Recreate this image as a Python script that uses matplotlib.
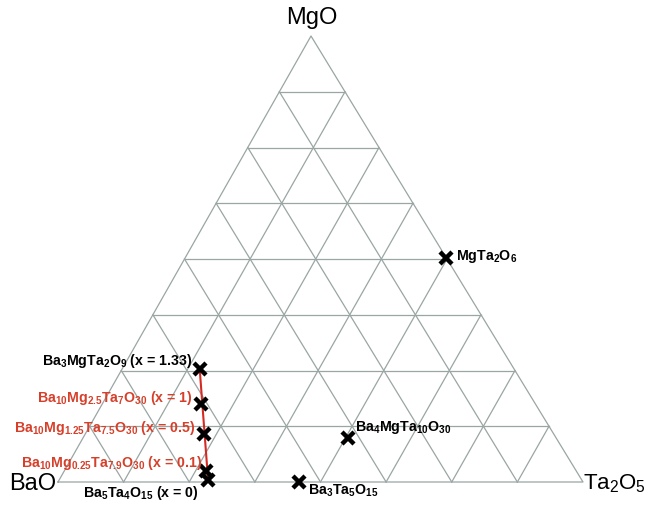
import numpy as np
import matplotlib
matplotlib.use("Agg")
import matplotlib.pyplot as plt

plt.rcParams["font.family"] = ["Liberation Sans", "DejaVu Sans"]
plt.rcParams["mathtext.fontset"] = "custom"
plt.rcParams["mathtext.rm"] = "Liberation Sans"
plt.rcParams["mathtext.bf"] = "Liberation Sans:bold"

# compositions as mole fractions (MgO, Ta2O5); BaO is the remainder
phases = ["Ba3MgTa2O9", "x=1", "x=0.5", "x=0.1", "x=0",
          "Ba3Ta5O15", "Ba4MgTa10O30", "MgTa2O6"]
mgo_frac = [0.253, 0.175, 0.108, 0.025, 0.004, 0.0, 0.099, 0.502]
ta2o5_frac = [0.148, 0.188, 0.226, 0.270, 0.284, 0.459, 0.505, 0.497]
labels = [
    r"Ba$_\mathbf{3}$MgTa$_\mathbf{2}$O$_\mathbf{9}$ (x = 1.33)",
    r"Ba$_\mathbf{10}$Mg$_\mathbf{2.5}$Ta$_\mathbf{7}$O$_\mathbf{30}$ (x = 1)",
    r"Ba$_\mathbf{10}$Mg$_\mathbf{1.25}$Ta$_\mathbf{7.5}$O$_\mathbf{30}$ (x = 0.5)",
    r"Ba$_\mathbf{10}$Mg$_\mathbf{0.25}$Ta$_\mathbf{7.9}$O$_\mathbf{30}$ (x = 0.1)",
    r"Ba$_\mathbf{5}$Ta$_\mathbf{4}$O$_\mathbf{15}$ (x = 0)",
    r"Ba$_\mathbf{3}$Ta$_\mathbf{5}$O$_\mathbf{15}$",
    r"Ba$_\mathbf{4}$MgTa$_\mathbf{10}$O$_\mathbf{30}$",
    r"MgTa$_\mathbf{2}$O$_\mathbf{6}$",
]
label_colors = ["black", "#d6402b", "#d6402b", "#d6402b", "black",
                "black", "black", "black"]
# text offset (dx, dy) and alignment for each label
label_pos = [(-8, -9, "right"), (-8, -7, "right"), (-9, -7, "right"),
             (-4, -9, "right"), (-10, 12, "right"), (9, 8, "left"),
             (7, -11, "left"), (10, -3, "left")]
label_size = 10.2

# corners of the diagram: BaO, Ta2O5, MgO
A = np.array([58.0, 483.0])
B = np.array([583.0, 483.0])
C = np.array([311.0, 37.0])


def to_xy(mg, ta):
    ba = 1 - mg - ta
    p = ba * A + ta * B + mg * C
    return p[0], p[1]


fig = plt.figure(figsize=(6.48, 5.06), dpi=100)
ax = fig.add_axes([0, 0, 1, 1])
ax.set_xlim(0, 648)
ax.set_ylim(506, 0)
ax.axis("off")

grid_c = "#9aa6a4"
n = 8
for i in range(1, n):
    f = i / n
    for p, q in (((f, 0), (f, 1 - f)), ((0, f), (1 - f, f)), ((1 - f, 0), (0, 1 - f))):
        x0, y0 = to_xy(*p)
        x1, y1 = to_xy(*q)
        ax.plot([x0, x1], [y0, y1], color=grid_c, lw=0.9, zorder=1)
tri = np.array([A, B, C, A])
ax.plot(tri[:, 0], tri[:, 1], color=grid_c, lw=0.9, zorder=1)

pts = [to_xy(m, t) for m, t in zip(mgo_frac, ta2o5_frac)]
xs = [p[0] for p in pts]
ys = [p[1] for p in pts]

# Ba5Ta4O15 - Ba3MgTa2O9 tie line
ax.plot([xs[0], xs[4]], [ys[0], ys[4]], color="#d42a22", lw=1.5, zorder=2)
ax.plot(xs, ys, "x", color="black", ms=9, mew=3.2, ls="none", zorder=3)

for x, y, lab, col, (dx, dy, ha) in zip(xs, ys, labels, label_colors, label_pos):
    ax.text(x + dx, y + dy, lab, color=col, ha=ha, va="center",
            fontsize=label_size, fontweight="bold", zorder=4)

ax.text(C[0] + 1, 18, "MgO", ha="center", va="center", fontsize=17)
ax.text(A[0] - 2, A[1] + 1, "BaO", ha="right", va="center", fontsize=17)
ax.text(B[0], B[1] + 1, r"Ta$_\mathrm{2}$O$_\mathrm{5}$", ha="left", va="center", fontsize=16)

fig.savefig("out.png", dpi=100)
